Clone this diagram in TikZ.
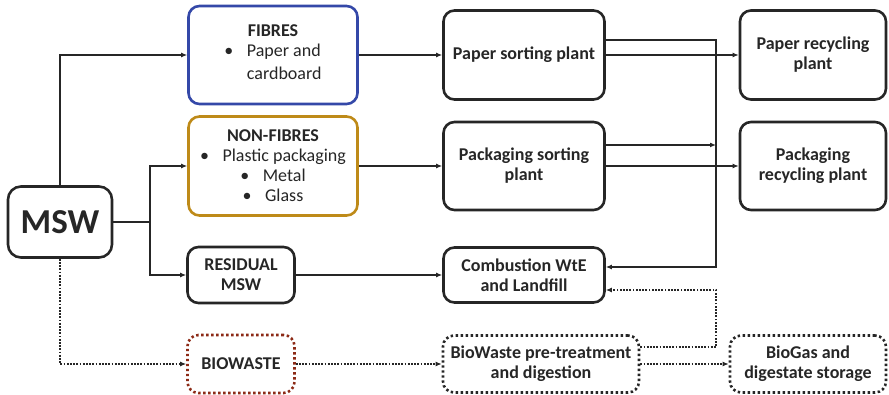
\documentclass[tikz,border=0pt]{standalone}
\usepackage{fontspec}
\setmainfont{Carlito}
\usetikzlibrary{arrows.meta}

\definecolor{linegray}{RGB}{38,38,38}
\definecolor{fibreblue}{RGB}{52,72,168}
\definecolor{nonfibregold}{RGB}{190,138,24}
\definecolor{biobrown}{RGB}{140,42,22}

\tikzset{
  box/.style={draw=linegray, line width=2.6pt, rounded corners=11pt, align=center,
    inner sep=2pt, font=\fontsize{18}{20}\selectfont\bfseries, text=linegray},
  dotbox/.style={box, dash pattern=on 2.4pt off 2.6pt},
  flow/.style={draw=linegray, line width=1.6pt, -{Latex[length=6pt,width=5pt]}},
  dflow/.style={flow, line width=1.8pt, dash pattern=on 1.8pt off 1.4pt},
}

\begin{document}
\begin{tikzpicture}[x=1pt,y=-1pt]
    \useasboundingbox (0,0) rectangle (889,395);
    % sources
    \node [box, minimum width=104pt, minimum height=71pt, rounded corners=13pt,
           font=\fontsize{35}{38}\selectfont\bfseries] (msw) at (60,222) {MSW};
    \node [box, draw=fibreblue, minimum width=169pt, minimum height=98pt] (fibres) at (273,55)
        {FIBRES\\[5pt]\mdseries\begin{tabular}{@{}l@{\hspace{0.75em}}l@{}}\textbullet & Paper and\\[3pt] & cardboard\end{tabular}};
    \node [box, draw=nonfibregold, minimum width=169pt, minimum height=99pt] (nonfib) at (273,166)
        {NON-FIBRES\\\mdseries\textbullet\hspace{0.75em}Plastic packaging\\\mdseries\textbullet\hspace{0.75em}Metal\\\mdseries\textbullet\hspace{0.75em}Glass};
    \node [box, minimum width=107pt, minimum height=56pt] (resid) at (241,275) {RESIDUAL\\MSW};
    \node [dotbox, draw=biobrown, minimum width=107pt, minimum height=58pt] (bio) at (241,364) {BIOWASTE};
    % treatment
    \node [box, minimum width=161pt, minimum height=89pt] (psort) at (524,55) {Paper sorting plant};
    \node [box, minimum width=161pt, minimum height=88pt] (pksort) at (524,166) {Packaging sorting\\plant};
    \node [box, minimum width=161pt, minimum height=55pt] (comb) at (524,275) {Combustion WtE\\and Landfill};
    \node [dotbox, minimum width=196pt, minimum height=57pt] (biotreat) at (541,364) {BioWaste pre-treatment\\and digestion};
    % destinations
    \node [box, minimum width=146pt, minimum height=89pt] (precyc) at (813,55) {Paper recycling\\plant};
    \node [box, minimum width=146pt, minimum height=88pt] (pkrecyc) at (813,166) {Packaging\\recycling plant};
    \node [dotbox, minimum width=156pt, minimum height=57pt] (biogas) at (808,364) {BioGas and\\digestate storage};

    \coordinate (split) at (150,222);
    \coordinate (busbot) at (716,267);
    \coordinate (dbus) at (716,290);
    \coordinate (pkout) at ([yshift=21pt]pksort.east);

    \draw [flow] (msw.north) |- (fibres.west);
    \draw [flow, -] (msw.east) -- (split);
    \draw [flow] (split) |- (nonfib.west);
    \draw [flow] (split) |- (resid.west);
    \draw [flow] (fibres) -- (psort);
    \draw [flow] (nonfib) -- (pksort);
    \draw [flow] (resid) -- (comb);
    \draw [flow] (psort) -- (precyc);
    \draw [flow] (pksort) -- (pkrecyc);
    \draw [flow] ([yshift=15pt]psort.east) -| (busbot) -- ([yshift=8pt]comb.east);
    \draw [flow] (pkout) -- (pkout -| busbot);
    % biowaste route
    \draw [dflow] (msw.south) |- (bio.west);
    \draw [dflow] (bio) -- (biotreat);
    \draw [dflow] (biotreat) -- (biogas);
    \draw [dflow] ([yshift=17pt]biotreat.east) -| (dbus) -- ([yshift=-15pt]comb.east);
\end{tikzpicture}
\end{document}
